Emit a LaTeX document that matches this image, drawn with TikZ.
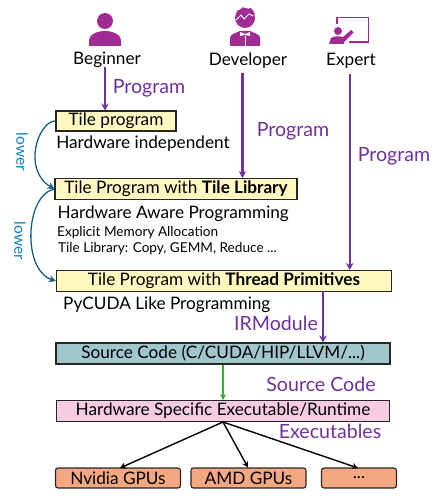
\documentclass[tikz,border=0pt]{standalone}
\usepackage{fontspec}
\setmainfont{Lato}
\usetikzlibrary{arrows.meta}
\definecolor{prog}{HTML}{7030A0}
\definecolor{icon}{HTML}{A02B93}
\definecolor{low}{HTML}{156082}
\definecolor{lowt}{HTML}{0F7FC4}
\definecolor{yel}{HTML}{FFF8C0}
\definecolor{teal}{HTML}{A0C6CC}
\definecolor{pnk}{HTML}{F8CCE0}
\definecolor{org}{HTML}{F4A880}
\tikzset{
 x=1pt,y=-1pt,
 box/.style={draw=black!85,line width=1.1pt,anchor=center,inner sep=0pt,font=\fontsize{17.2}{19}\selectfont},
 lbl/.style={anchor=center,inner sep=0pt,font=\fontsize{17.2}{19}\selectfont},
 small/.style={anchor=west,inner sep=0pt,font=\fontsize{13.6}{15}\selectfont},
 plab/.style={anchor=center,inner sep=0pt,text=prog,font=\fontsize{19.6}{21}\selectfont},
 parr/.style={draw=prog,line width=2.2pt,-{Stealth[length=7pt,width=7.5pt]}},
 lowarr/.style={draw=low,line width=1.3pt,-{Stealth[length=7pt,width=7pt]}},
 karr/.style={draw=black,line width=1.4pt,-{Stealth[length=6pt,width=6.5pt]}},
}
\begin{document}
\begin{tikzpicture}
\useasboundingbox (0,0) rectangle (442,500);
% icons
\fill[icon] (105,21) circle (8);
\fill[icon] (89,46) -- (89,41) .. controls (89,34) and (98,31) .. (105,31) .. controls (112,31) and (121,34) .. (121,41) -- (121,46) -- cycle;
\fill[icon] (245,18) circle (10);
\fill[icon] (236,11) -- (240,10) -- (243,7) -- (247,10) -- (250,8) -- (252,9) -- (255,14) -- (246,15) -- cycle;
\fill[icon] (230,46) -- (230,38) .. controls (230,34) and (236,33) .. (240,31) -- (250,31) .. controls (254,33) and (260,34) .. (260,38) -- (260,46) -- cycle;
\fill[white] (240,32) -- (245,34) -- (250,32) -- (250,36) -- (245,35) -- (240,36) -- cycle;
\draw[white,line width=.6pt] (245,36) -- (245,46);
\draw[white,line width=.9pt] (236,20) -- (241,15) -- (244,19) -- (249,14) -- (253,16);
\draw[icon,line width=1.5pt] (337,24) -- (337,17.5) -- (368.5,17.5) -- (368.5,42) -- (349,42);
\fill[icon] (338,31) circle (4);
\fill[icon] (329,44) -- (331,38) .. controls (333,36) and (340,36) .. (343,37) -- (351,30) -- (353.5,32.5) -- (344,42) -- (344,44) -- cycle;
% text headings
\node[lbl] (nb) at (107,59.5) {Beginner};
\node[lbl] (nd) at (248,60.5) {Developer};
\node[lbl] (ne) at (351,61) {Expert};
% boxes
\node[box,fill=yel,minimum width=120pt,minimum height=20pt] (b1) at (116,121) {Tile program};
\node[lbl] (t1) at (143,143.5) {Hardware independent};
\node[box,fill=yel,minimum width=242pt,minimum height=21pt] (b2) at (176,189) {Tile Program with \textbf{Tile Library}};
\node[lbl,anchor=west] (t2) at (57.5,213.5) {Hardware Aware Programming};
\node[small] (t3) at (57,233) {Explicit Memory Allocation};
\node[small] (t4) at (58,249) {Tile Library: Copy, GEMM, Reduce ...};
\node[box,fill=yel,minimum width=335pt,minimum height=21pt] (b3) at (224,281) {Tile Program with \textbf{Thread Primitives}};
\node[lbl,anchor=west] (t5) at (63,304.5) {PyCUDA Like Programming};
\node[box,fill=teal,minimum width=334pt,minimum height=21pt] (b4) at (223,353.5) {Source Code (C/CUDA/HIP/LLVM/...)};
\node[box,fill=pnk,minimum width=333pt,minimum height=21pt] (b5) at (223,411) {Hardware Specific Executable/Runtime};
\node[box,fill=org,rounded corners=2.5pt,minimum width=125pt,minimum height=20pt] (g1) at (118,478) {Nvidia GPUs};
\node[box,fill=org,rounded corners=2.5pt,minimum width=115pt,minimum height=20pt] (g2) at (248.5,478) {AMD GPUs};
\node[box,fill=org,rounded corners=2.5pt,minimum width=75pt,minimum height=20pt] (g3) at (359,478) {...};
% program arrows
\coordinate (d0) at (242.5,73);
\coordinate (e0) at (349.7,74);
\coordinate (b0) at (105,67);
\coordinate (b1t) at (105,110.5);
\coordinate (d1) at (242.5,178);
\coordinate (e1) at (349.7,270);
\coordinate (i0) at (323,291);
\coordinate (i1) at (323,342.5);
\draw[parr] (b0) -- (b1t);
\draw[parr] (d0) -- (d1);
\draw[parr] (e0) -- (e1);
\draw[parr] (i0) -- (i1);
\coordinate (c0) at (223,364.5);
\coordinate (c1) at (223,400);
\draw[draw=green!60!black!80,line width=1.3pt,-{Stealth[length=6pt,width=6pt]}] (c0) -- (c1);
\coordinate (s) at (223,422);
\coordinate (g1t) at (120,468);
\coordinate (g2t) at (248,467.5);
\coordinate (g3t) at (358,468);
\draw[karr] (s) -- (g1t);
\draw[karr] (s) -- (g2t);
\draw[karr] (s) -- (g3t);
% lower
\draw[lowarr] (b1.west) .. controls (38,121) and (22,170) .. (b2.west);
\draw[lowarr] (b2.west) .. controls (25,195) and (22,270) .. (b3.west);
\node[rotate=-90,anchor=center,inner sep=0pt,text=lowt,font=\fontsize{15.5}{17}\selectfont] (l1) at (22,152) {lower};
\node[rotate=-90,anchor=center,inner sep=0pt,text=lowt,font=\fontsize{15.5}{17}\selectfont] (l2) at (20,241) {lower};
% labels
\node[plab] (p1) at (149,88) {Program};
\node[plab] (p2) at (293,131) {Program};
\node[plab] (p3) at (394,156) {Program};
\node[plab] (p4) at (276,323) {IRModule};
\node[plab] (p5) at (321,384) {Source Code};
\node[plab] (p6) at (330,431) {Executables};
\end{tikzpicture}
\end{document}
